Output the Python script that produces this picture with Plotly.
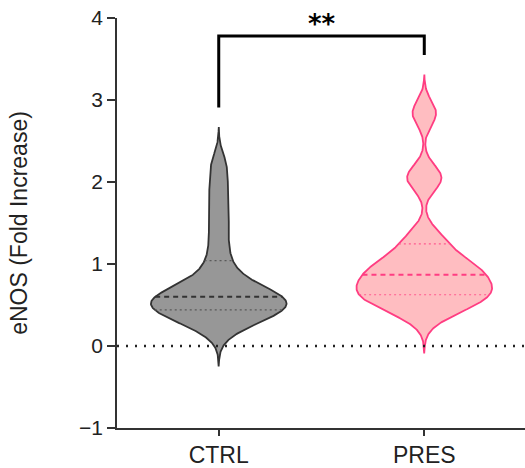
import numpy as np
import plotly.graph_objects as go

# Group labels and measured fold-increase values
categories = ["CTRL", "PRES"]
ctrl_values = [0.20, 0.29, 0.34, 0.38, 0.41, 0.44, 0.47, 0.50, 0.53, 0.55, 0.57, 0.60,
               0.62, 0.66, 0.71, 0.78, 0.88, 1.04, 1.26, 1.50, 1.72, 1.96, 2.22]
pres_values = [0.36, 0.43, 0.48, 0.52, 0.56, 0.59, 0.61, 0.64, 0.67, 0.69, 0.72, 0.75,
               0.79, 0.83, 0.87, 0.90, 0.93, 0.96, 1.00, 1.04, 1.09, 1.19, 1.30, 1.36,
               2.00, 2.05, 2.10, 2.82, 2.86]
significance = "**"

fill_colors = ["#979797", "#FFBDC1"]
line_colors = ["#333333", "#FF3D82"]
quart_colors = ["#5a5a5a", "#FF5A90"]

BW = 0.15      # kernel bandwidth
CUT = 3.0      # tails extend CUT * BW beyond the data
HALF = 0.33    # half-width of the widest violin, in category units


def kde(vals, grid, bw):
    v = np.asarray(vals)[:, None]
    return np.exp(-0.5 * ((grid[None, :] - v) / bw) ** 2).sum(axis=0)


fig = go.Figure()
for i, (name, vals) in enumerate(zip(categories, [ctrl_values, pres_values])):
    lo, hi = min(vals) - CUT * BW, max(vals) + CUT * BW
    grid = np.linspace(lo, hi, 500)
    dens = kde(vals, grid, BW)
    scale = HALF / dens.max()
    w = dens * scale
    xs = np.concatenate([i - w, (i + w)[::-1], [i - w[0]]])
    ys = np.concatenate([grid, grid[::-1], [grid[0]]])
    fig.add_trace(go.Scatter(x=xs, y=ys, mode="lines", fill="toself",
                             fillcolor=fill_colors[i],
                             line=dict(color=line_colors[i], width=1.8),
                             hoverinfo="skip", showlegend=False))
    q1, med, q3 = np.percentile(vals, [25, 50, 75], method="weibull")
    for q, dash, lw, col in [(q1, "2px,3px", 1.2, quart_colors[i]),
                             (med, "5px,4px", 2.0, line_colors[i]),
                             (q3, "2px,3px", 1.2, quart_colors[i])]:
        hw = kde(vals, np.array([q]), BW)[0] * scale
        fig.add_trace(go.Scatter(x=[i - hw, i + hw], y=[q, q], mode="lines",
                                 line=dict(color=col, width=lw, dash=dash),
                                 hoverinfo="skip", showlegend=False))

# dotted reference line at zero
fig.add_shape(type="line", xref="paper", x0=0, x1=1, yref="y", y0=0, y1=0,
              line=dict(color="#222222", width=2.4, dash="2px,7px"))

# significance bracket
fig.add_shape(type="path", xref="x", yref="y",
              path="M 0,2.91 L 0,3.78 L 1,3.78 L 1,3.55",
              line=dict(color="black", width=3))
fig.add_annotation(x=0.5, y=3.72, text="<b>" + significance + "</b>", showarrow=False,
                   font=dict(size=26, color="black", family="DejaVu Sans"),
                   yanchor="bottom")

fig.update_layout(
    width=525, height=468,
    margin=dict(l=117, r=0, t=18, b=40),
    plot_bgcolor="white", paper_bgcolor="white",
    font=dict(family="Liberation Sans, Arial, sans-serif", color="#222222"),
    xaxis=dict(range=[-0.495, 1.49], tickvals=[0, 1], ticktext=categories,
               showgrid=False, zeroline=False, showline=True, linecolor="#333333",
               linewidth=1.5, ticks="outside", ticklen=6, tickwidth=1.5,
               tickcolor="#333333", tickfont=dict(size=23)),
    yaxis=dict(range=[-1, 4], tickvals=[-1, 0, 1, 2, 3, 4], showgrid=False,
               zeroline=False, showline=True, linecolor="#333333", linewidth=1.5,
               ticks="outside", ticklen=8, tickwidth=1.5, tickcolor="#333333",
               tickfont=dict(size=21),
               title=dict(text="eNOS (Fold Increase)", font=dict(size=23), standoff=45)),
)

fig.write_html("out.html")
